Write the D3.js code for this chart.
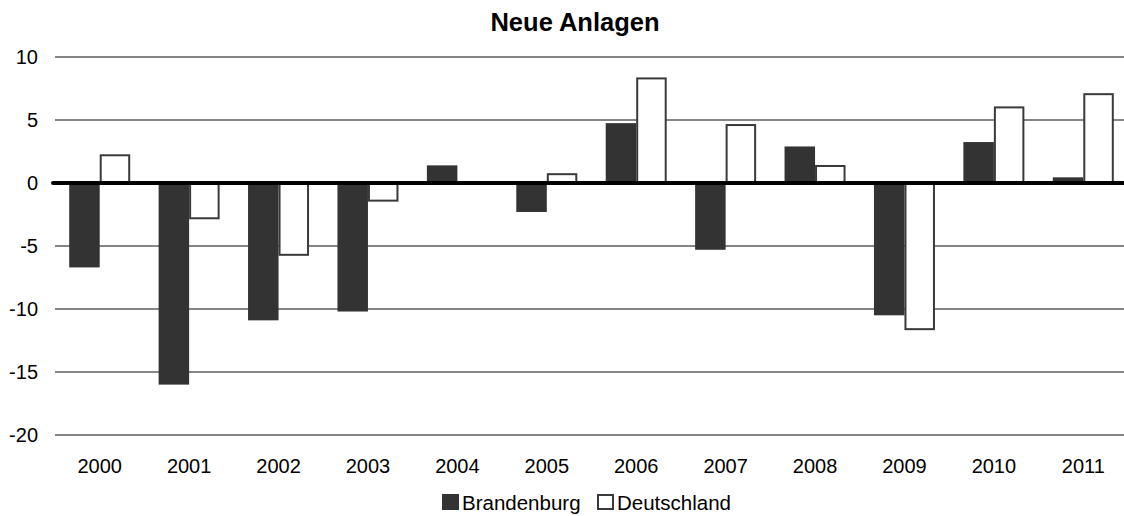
<!DOCTYPE html>
<html><head><meta charset="utf-8">
<script src="https://cdn.jsdelivr.net/npm/d3@7"></script>
<style>body{margin:0;background:#fff}svg{display:block}text{font-family:"Liberation Sans",Arial,sans-serif}</style>
</head><body><svg id="c" width="1124" height="516"></svg>
<script>
const years = ["2000","2001","2002","2003","2004","2005","2006","2007","2008","2009","2010","2011"];
const brandenburg = [-6.7,-16.0,-10.9,-10.2,1.4,-2.3,4.75,-5.3,2.9,-10.5,3.25,0.45];
const deutschland = [2.2,-2.8,-5.7,-1.4,0,0.7,8.3,4.6,1.35,-11.6,6.0,7.05];
const yTicks = [10,5,0,-5,-10,-15,-20];
const seriesNames = ["Brandenburg","Deutschland"];

const svg = d3.select("#c");
const x = d3.scaleBand().domain(years).range([55,1128]).paddingInner(0).paddingOuter(0);
const y = d3.scaleLinear().domain([-20,10]).range([435,57]);
const bw = 30.5;

svg.append("text").attr("x",575).attr("y",31).attr("text-anchor","middle")
  .attr("font-size",25.5).attr("font-weight","bold").text("Neue Anlagen");

// gridlines
svg.append("g").selectAll("line").data(yTicks.filter(d=>d!==0)).join("line")
  .attr("x1",55).attr("x2",1124).attr("y1",d=>y(d)).attr("y2",d=>y(d))
  .attr("stroke","#868686").attr("stroke-width",2);

// y tick labels
svg.append("g").selectAll("text").data(yTicks).join("text")
  .attr("x",38).attr("y",d=>y(d)+7).attr("text-anchor","end")
  .attr("font-size",20).attr("fill","#000").text(d=>d);

// bars
const g = svg.append("g");
g.selectAll("rect.b").data(years).join("rect").attr("class","b")
  .attr("x",d=>x(d)+x.bandwidth()/2-bw)
  .attr("width",bw)
  .attr("y",(d,i)=>y(Math.max(0,brandenburg[i])))
  .attr("height",(d,i)=>Math.abs(y(brandenburg[i])-y(0)))
  .attr("fill","#333333");
g.selectAll("rect.d").data(years).join("rect").attr("class","d")
  .filter((d,i)=>deutschland[i]!==0)
  .attr("x",d=>x(d)+x.bandwidth()/2+1)
  .attr("width",bw-2)
  .attr("y",d=>y(Math.max(0,deutschland[years.indexOf(d)])))
  .attr("height",d=>Math.abs(y(deutschland[years.indexOf(d)])-y(0)))
  .attr("fill","#fff").attr("stroke","#3a3a3a").attr("stroke-width",2);

// zero line
svg.append("line").attr("x1",53).attr("x2",1124).attr("y1",y(0)).attr("y2",y(0))
  .attr("stroke","#000").attr("stroke-width",4).attr("stroke-linecap","round");

// x labels
svg.append("g").selectAll("text").data(years).join("text")
  .attr("x",d=>x(d)+x.bandwidth()/2).attr("y",473).attr("text-anchor","middle")
  .attr("font-size",20).text(d=>d);

// legend
const leg = svg.append("g");
leg.append("rect").attr("x",442).attr("y",494).attr("width",17).attr("height",16).attr("fill","#333333");
leg.append("text").attr("x",462).attr("y",510).attr("font-size",20.5).text(seriesNames[0]);
leg.append("rect").attr("x",598).attr("y",495).attr("width",15).attr("height",14).attr("fill","#fff").attr("stroke","#3a3a3a").attr("stroke-width",2);
leg.append("text").attr("x",617).attr("y",510).attr("font-size",20.5).text(seriesNames[1]);
</script></body></html>
